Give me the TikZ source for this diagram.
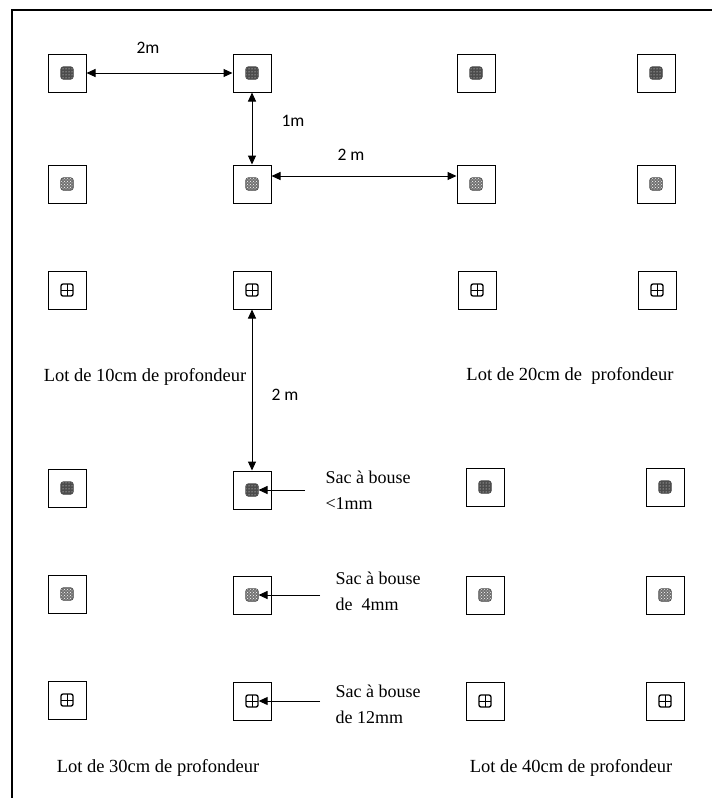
\documentclass[tikz,border=0pt]{standalone}
\usepackage{fontspec}
\setmainfont{Liberation Serif}
\newfontfamily\calibri{Carlito}
\usetikzlibrary{arrows.meta,patterns}

\begin{document}
\begin{tikzpicture}[x=1pt,y=-1pt,
    plot/.style={draw,line width=1pt,minimum size=38pt,inner sep=0pt},
    fin/.style={rounded corners=2.5pt,minimum size=12.5pt,inner sep=0pt,draw=black!70,line width=0.6pt,pattern=dots,pattern color=white,preaction={fill=black!70}},
    moyen/.style={rounded corners=2.5pt,minimum size=12.5pt,inner sep=0pt,draw=black!70,line width=0.6pt,pattern=crosshatch dots,pattern color=white,preaction={fill=black!55}},
    gros/.style={rounded corners=2pt,minimum size=12pt,inner sep=0pt,draw,line width=1.3pt,
        path picture={\draw[line width=0.9pt] (path picture bounding box.north) -- (path picture bounding box.south)
            (path picture bounding box.west) -- (path picture bounding box.east);}},
    dist/.style={{Triangle[length=9pt,width=8pt]}-{Triangle[length=9pt,width=8pt]},line width=1pt},
    fleche/.style={-{Triangle[length=9pt,width=8pt]},line width=1pt},
    cote/.style={font=\calibri\fontsize{17.5}{20}\selectfont},
    lot/.style={font=\fontsize{18.5}{22}\selectfont},
    sac/.style={font=\fontsize{18}{26}\selectfont,align=left,anchor=west}]
    \useasboundingbox (0,0) rectangle (712,798);
    \draw[line width=1.4pt] (12,798) -- (12,10) -- (712,10);
    % lot de 10cm et lot de 20cm
    \path (67,73) node[plot] (a1) {} node[fin] (a1s) {};
    \path (252,73) node[plot] (a2) {} node[fin] (a2s) {};
    \path (476,73) node[plot] (a3) {} node[fin] (a3s) {};
    \path (656,73) node[plot] (a4) {} node[fin] (a4s) {};
    \path (67,184) node[plot] (b1) {} node[moyen] (b1s) {};
    \path (252,184) node[plot] (b2) {} node[moyen] (b2s) {};
    \path (476,184) node[plot] (b3) {} node[moyen] (b3s) {};
    \path (656,184) node[plot] (b4) {} node[moyen] (b4s) {};
    \path (67,290) node[plot] (c1) {} node[gros] (c1s) {};
    \path (252,290) node[plot] (c2) {} node[gros] (c2s) {};
    \path (477,290) node[plot] (c3) {} node[gros] (c3s) {};
    \path (657,290) node[plot] (c4) {} node[gros] (c4s) {};
    % lot de 30cm et lot de 40cm
    \path (67,488) node[plot] (e1) {} node[fin] (e1s) {};
    \path (252,490) node[plot] (e2) {} node[fin] (e2s) {};
    \path (485,487) node[plot] (e3) {} node[fin] (e3s) {};
    \path (665,487) node[plot] (e4) {} node[fin] (e4s) {};
    \path (67,594) node[plot] (f1) {} node[moyen] (f1s) {};
    \path (252,595) node[plot] (f2) {} node[moyen] (f2s) {};
    \path (485,595) node[plot] (f3) {} node[moyen] (f3s) {};
    \path (665,595) node[plot] (f4) {} node[moyen] (f4s) {};
    \path (67,700) node[plot] (g1) {} node[gros] (g1s) {};
    \path (252,701) node[plot] (g2) {} node[gros] (g2s) {};
    \path (485,701) node[plot] (g3) {} node[gros] (g3s) {};
    \path (665,701) node[plot] (g4) {} node[gros] (g4s) {};
    % distances
    \draw[dist] (a1.east) -- (a2.west);
    \draw[dist] (a2.south) -- (b2.north);
    \draw[dist] ([yshift=8pt]b2.east) -- ([yshift=8pt]b3.west);
    \draw[dist] (c2.south) -- (e2.north);
    \node[cote] (d1) at (148,48) {2m};
    \node[cote] (d2) at (293,121) {1m};
    \node[cote] (d3) at (351,155) {2 m};
    \node[cote] (d4) at (285,395) {2 m};
    % legendes
    \node[lot] (lot1) at (145,377) {Lot de 10cm de profondeur};
    \node[lot] (lot2) at (570,376) {Lot de 20cm de\ \ profondeur};
    \node[lot] (lot3) at (158,768) {Lot de 30cm de profondeur};
    \node[lot] (lot4) at (571,768) {Lot de 40cm de profondeur};
    \node[sac] (sac1) at (322,490) {Sac à bouse\\<1mm};
    \node[sac] (sac2) at (332,591) {Sac à bouse\\de\ \ 4mm};
    \node[sac] (sac3) at (332,704) {Sac à bouse\\de 12mm};
    \draw[fleche,shorten <=17pt] (sac1.west |- e2s.east) -- (e2s.east);
    \draw[fleche,shorten <=12pt] (sac2.west |- f2s.east) -- (f2s.east);
    \draw[fleche,shorten <=12pt] (sac3.west |- g2s.east) -- (g2s.east);
\end{tikzpicture}
\end{document}
